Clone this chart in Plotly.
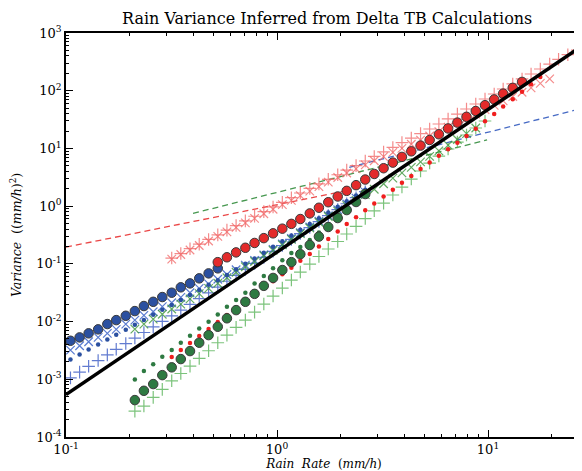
import plotly.graph_objects as go

# rain-rate grid (mm/h) shared by all marker series
RAIN = [0.105, 0.116, 0.128, 0.142, 0.157, 0.173, 0.192, 0.212, 0.234, 0.259,
        0.286, 0.317, 0.350, 0.387, 0.428, 0.474, 0.524, 0.579, 0.640, 0.708,
        0.783, 0.866, 0.958, 1.06, 1.17, 1.29, 1.43, 1.58, 1.75, 1.94,
        2.14, 2.37, 2.62, 2.89, 3.20, 3.54, 3.91, 4.33, 4.79, 5.29,
        5.85, 6.47, 7.16, 7.91, 8.75, 9.68, 10.7, 11.8, 13.1, 14.5,
        16.0, 17.7, 19.6, 21.6, 23.9, 26.5]

BLUE_CIRCLE = [4.65e-3, 5.32e-3, 6.25e-3, 7.33e-3, 9.06e-3, 0.0106, 0.0126, 0.0152, 0.0186,
               0.0220, 0.0266, 0.0316, 0.0392, 0.0459, 0.0561, 0.0684, 0.0836]
BLUE_X = [3.21e-3, 3.81e-3, 4.47e-3, 5.32e-3, 6.24e-3, 7.33e-3, 9.06e-3, 0.0106, 0.0128, 0.0148,
          0.0181, 0.0212, 0.0262, 0.0316, 0.0376, 0.0450, 0.0541, 0.0653, 0.0791, 0.0953,
          0.115, 0.143, 0.178, 0.221, 0.275, 0.346, 0.435, 0.547, 0.687, 0.867,
          1.09, 1.38, 1.75]
BLUE_DOT = [2.21e-3, 2.69e-3, 3.29e-3, 3.99e-3, 4.88e-3, 5.93e-3, 7.24e-3, 8.81e-3, 0.0107, 0.0131,
            0.0160, 0.0194, 0.0237, 0.0288, 0.0354, 0.0436, 0.0520, 0.0644, 0.0805, 0.100,
            0.124, 0.156, 0.197, 0.247, 0.310, 0.390, 0.490, 0.617, 0.774, 0.973,
            1.22, 1.53, 1.93]
BLUE_PLUS = [1.06e-3, 1.33e-3, 1.68e-3, 2.11e-3, 2.65e-3, 3.31e-3, 4.16e-3, 5.18e-3, 6.47e-3, 8.09e-3,
             0.0101, 0.0126, 0.0158, 0.0199, 0.0249, 0.0313, 0.0394, 0.0500, 0.0634, 0.0803,
             0.102, 0.129, 0.165, 0.208, 0.265, 0.335, 0.426, 0.541, 0.687, 0.869,
             1.10, 1.40, 1.78]

RED_CIRCLE = [0.107, 0.130, 0.158, 0.190, 0.230, 0.279, 0.338, 0.407, 0.493, 0.598,
              0.748, 0.938, 1.17, 1.47, 1.84, 2.31, 2.89, 3.61, 4.54, 5.68,
              7.13, 8.91, 11.2, 14.0, 17.6, 22.2, 28.0, 35.3, 44.5, 56.1,
              70.6, 89.1, 112, 142]
RED_X = [0.121, 0.145, 0.174, 0.208, 0.249, 0.299, 0.359, 0.430, 0.514, 0.615,
         0.738, 0.883, 1.06, 1.26, 1.52, 1.82, 2.18, 2.61, 3.13, 3.75,
         4.42, 5.20, 6.12, 7.21, 8.53, 10.0, 11.8, 13.9, 16.4,
         19.5, 23.3, 27.8, 33.0, 39.4, 46.9, 55.8, 66.5, 79.4, 94.2, 112, 134, 160]
RED_PLUS = [0.126, 0.151, 0.183, 0.219, 0.265, 0.318, 0.384, 0.461, 0.555, 0.668,
            0.804, 0.968, 1.16, 1.40, 1.69,
            2.03, 2.43, 2.92, 3.50, 4.21, 5.04, 6.05, 7.26, 8.69, 10.4, 12.6, 15.1, 18.1, 21.7,
            26.5, 32.4, 39.4, 48.2, 58.9, 71.8, 87.7, 107, 131, 160, 195, 238, 290,
            350, 421, 507]
RED_DOT = [2.43e-3, 3.21e-3, 4.24e-3, 5.61e-3, 7.41e-3, 9.79e-3, 0.0130,
           0.0170, 0.0223, 0.0292, 0.0382, 0.0501, 0.0658, 0.0859, 0.113, 0.148,
           0.200, 0.269, 0.363, 0.490,
           0.644, 0.845, 1.11, 1.47, 1.93, 2.54, 3.33, 4.40,
           5.71, 7.45, 9.68, 12.6, 16.4,
           22.0, 29.5, 39.6, 53.2, 71.4, 95.7, 129, 173]

GREEN_CIRCLE = [4.36e-4, 6.32e-4, 8.26e-4, 1.18e-3, 1.61e-3, 2.24e-3, 3.08e-3, 4.30e-3, 5.83e-3, 8.13e-3,
                0.0114, 0.0158, 0.0220, 0.0302, 0.0416, 0.0570, 0.0782, 0.107, 0.147, 0.212,
                0.297, 0.435, 0.622, 0.855, 1.18, 1.62]
GREEN_DOT = [9.95e-4, 1.39e-3, 1.83e-3, 2.45e-3, 3.21e-3, 4.30e-3, 5.68e-3, 7.62e-3, 9.93e-3, 0.0133,
             0.0181, 0.0236, 0.0316, 0.0459, 0.0615, 0.0836, 0.116, 0.154, 0.195, 0.259,
             0.349, 0.490, 0.673, 0.927, 1.28, 1.75]
GREEN_PLUS = [2.81e-4, 3.44e-4, 4.85e-4, 6.68e-4, 9.42e-4, 1.26e-3, 1.69e-3, 2.30e-3, 3.12e-3, 4.30e-3,
              5.83e-3, 7.94e-3, 0.0106,
              0.0146, 0.0201, 0.0277, 0.0381, 0.0524, 0.0721, 0.0993,
              0.134, 0.181, 0.244, 0.329, 0.447, 0.610, 0.830, 1.13,
              1.56, 2.14, 2.95, 4.06, 5.58, 7.38, 9.77, 12.9, 17.1, 22.6, 29.9]
GREEN_X = [7.38e-3, 9.02e-3, 0.0110, 0.0134, 0.0165, 0.0201, 0.0248, 0.0305, 0.0375, 0.0461,
           0.0574, 0.0715, 0.0891, 0.110, 0.138, 0.171, 0.213, 0.265, 0.333, 0.418,
           0.526, 0.661, 0.822, 1.02, 1.26, 1.58, 1.96, 2.44, 3.05, 3.78,
           4.71, 5.86, 7.26, 9.06, 11.4, 14.3, 18.0, 22.6]

BLACK_X = [0.1, 28.0]
BLACK_Y = [5.43e-4, 600.0]
RED_DASH_X = [0.1, 2.1]
RED_DASH_Y = [0.195, 1.83]
GREEN_DASH_X = [0.40, 9.9]
GREEN_DASH_Y = [0.75, 14.0]
BLUE_DASH_X = [2.2, 28.0]
BLUE_DASH_Y = [4.7, 49.5]

X_TICKS = [0.1, 1, 10]
X_TICKTEXT = ["10<sup>-1</sup>", "10<sup>0</sup>", "10<sup>1</sup>"]
Y_TICKS = [1e-4, 1e-3, 1e-2, 1e-1, 1, 10, 100, 1000]
Y_TICKTEXT = ["10<sup>-4</sup>", "10<sup>-3</sup>", "10<sup>-2</sup>", "10<sup>-1</sup>",
              "10<sup>0</sup>", "10<sup>1</sup>", "10<sup>2</sup>", "10<sup>3</sup>"]

BLUE = "#2b50a0"
RED = "#e32b2b"
GREEN = "#2e7a42"
EDGE = "#3a3a3a"

fig = go.Figure()


def dashed(x, y, color):
    fig.add_trace(go.Scatter(x=x, y=y, mode="lines",
                             line=dict(color=color, width=1.3, dash="6px,4px"),
                             showlegend=False, hoverinfo="skip"))


def markers(x, y, symbol, color, size, lw=0, lc=None):
    fig.add_trace(go.Scatter(
        x=x, y=y, mode="markers", showlegend=False,
        marker=dict(symbol=symbol, color=color, size=size,
                    line=dict(width=lw, color=lc if lc else color))))


dashed(RED_DASH_X, RED_DASH_Y, "rgba(232,50,50,0.9)")
dashed(GREEN_DASH_X, GREEN_DASH_Y, "rgba(50,140,60,0.9)")
dashed(BLUE_DASH_X, BLUE_DASH_Y, "rgba(50,90,190,0.9)")

# plus markers
markers(RAIN[0:33], BLUE_PLUS, "cross-thin", "rgba(70,100,200,0.85)", 9, 1.2)
markers(RAIN[11:56], RED_PLUS, "cross-thin", "rgba(240,100,100,0.75)", 9, 1.2)
markers(RAIN[7:46], GREEN_PLUS, "cross-thin", "rgba(90,180,90,0.8)", 9, 1.2)
# x markers
markers(RAIN[0:33], BLUE_X, "x-thin", "rgba(60,100,200,0.85)", 8.5, 1.2)
markers(RAIN[11:53], RED_X, "x-thin", "rgba(240,100,100,0.75)", 8.5, 1.2)
markers(RAIN[7:45], GREEN_X, "x-thin", "rgba(60,150,60,0.8)", 8.5, 1.2)
# dots
markers(RAIN[0:33], BLUE_DOT, "circle", BLUE, 4.5)
markers(RAIN[11:52], RED_DOT, "circle", "#f01e1e", 4.5)
markers(RAIN[7:33], GREEN_DOT, "circle", GREEN, 4.5)
# circles
markers(RAIN[0:17], BLUE_CIRCLE, "circle", BLUE, 9.5, 1, EDGE)
markers(RAIN[16:50], RED_CIRCLE, "circle", RED, 9.5, 1, EDGE)
markers(RAIN[7:33], GREEN_CIRCLE, "circle", GREEN, 9.5, 1, EDGE)

fig.add_trace(go.Scatter(x=BLACK_X, y=BLACK_Y, mode="lines",
                         line=dict(color="black", width=3.5),
                         showlegend=False, hoverinfo="skip"))

x_minor = [m * 10 ** e for e in (-1, 0, 1) for m in range(2, 10)]
y_minor = [m * 10.0 ** e for e in range(-4, 3) for m in range(2, 10)]

FONT = "DejaVu Serif"
# the page body adds an 8px margin, so the figure is 8px smaller than the window
fig.update_layout(
    width=574, height=463,
    margin=dict(l=58, r=0, t=25, b=34, autoexpand=False),
    paper_bgcolor="white", plot_bgcolor="white",
    font=dict(family=FONT, size=13, color="black"),
    title=dict(text="Rain Variance Inferred from Delta TB Calculations",
               x=0.556, xanchor="center", y=0.978, yanchor="middle",
               font=dict(family=FONT, size=16, color="black")),
    xaxis=dict(type="log", range=[-1, 1.4455], showgrid=False, zeroline=False,
               showline=True, linecolor="black", linewidth=1.5, mirror="ticks",
               ticks="inside", ticklen=7, tickwidth=1, tickcolor="black",
               tickvals=X_TICKS, ticktext=X_TICKTEXT,
               tickfont=dict(family=FONT, size=13),
               minor=dict(ticks="inside", ticklen=3.5, tickvals=x_minor,
                          tickcolor="black", showgrid=False),
               title=dict(text="<i>Rain  Rate</i>  (<i>mm/h</i>)",
                          font=dict(family=FONT, size=12), standoff=3),
               automargin=False),
    yaxis=dict(type="log", range=[-4, 3], showgrid=False, zeroline=False,
               showline=True, linecolor="black", linewidth=1.5, mirror="ticks",
               ticks="inside", ticklen=7, tickwidth=1, tickcolor="black",
               tickvals=Y_TICKS, ticktext=Y_TICKTEXT,
               tickfont=dict(family=FONT, size=13),
               minor=dict(ticks="inside", ticklen=3.5, tickvals=y_minor,
                          tickcolor="black", showgrid=False),
               title=dict(text="<i>Variance</i>  ((<i>mm/h</i>)<sup>2</sup>)",
                          font=dict(family=FONT, size=12.5), standoff=16),
               automargin=False),
)

fig.write_html("out.html")
